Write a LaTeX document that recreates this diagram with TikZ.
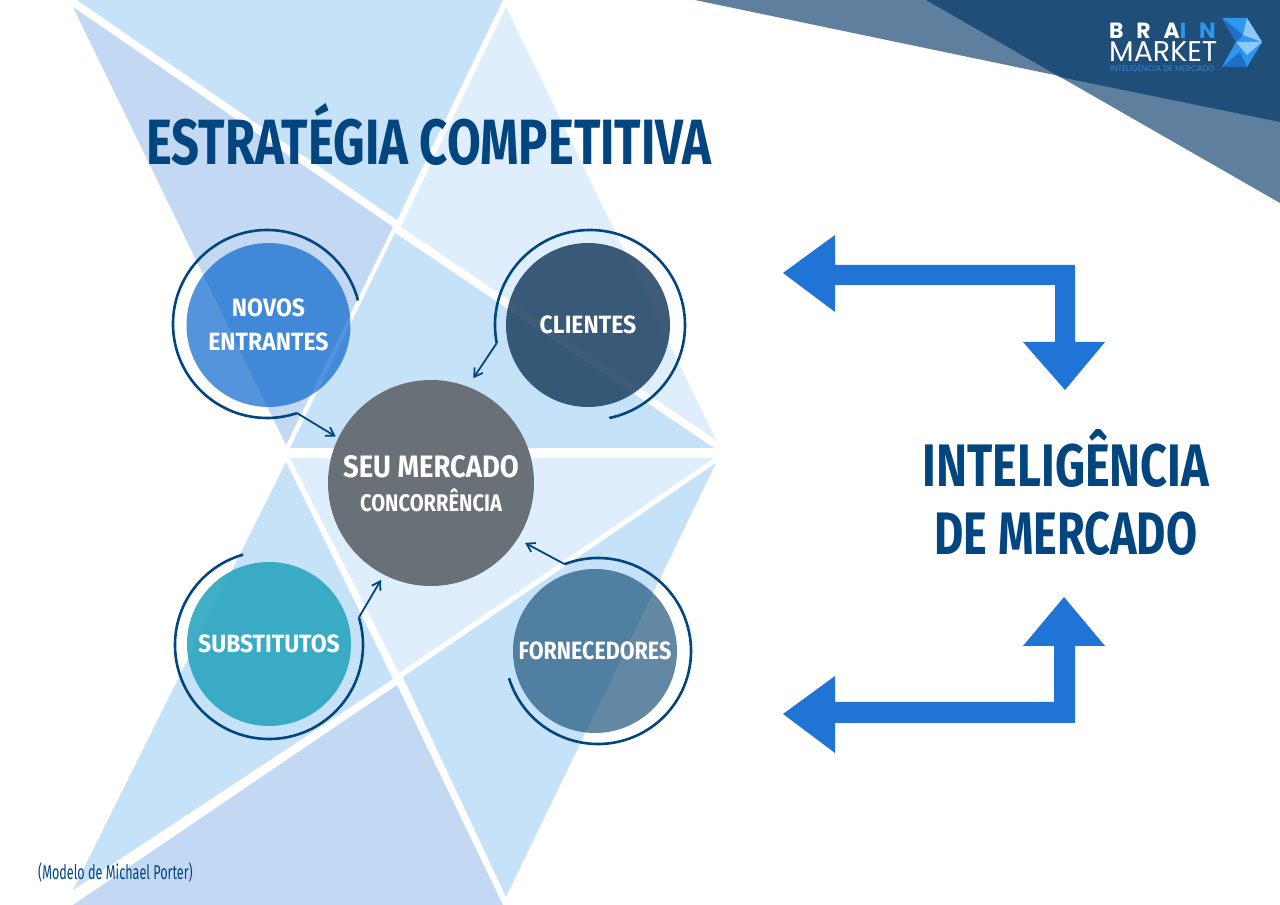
\documentclass[tikz,border=0pt]{standalone}
\usepackage{fontspec}
\usetikzlibrary{calc,arrows.meta}
\setmainfont{Fira Sans}
\newfontfamily\condA[FakeStretch=0.765]{Fira Sans}
\newfontfamily\condB[FakeStretch=0.78]{Fira Sans}
\newfontfamily\condC[FakeStretch=0.75]{Fira Sans}
\newfontfamily\condBall[FakeStretch=0.92]{Fira Sans}
\newfontfamily\condFor[FakeStretch=0.86]{Fira Sans}
\newfontfamily\condSeu[FakeStretch=0.885]{Fira Sans}
\newfontfamily\condCon[FakeStretch=0.84]{Fira Sans}
\newfontfamily\thincond[FakeStretch=0.63]{Fira Sans}
\newfontfamily\logofont{Poppins}
\definecolor{triA}{HTML}{C5E2F9}
\definecolor{triB}{HTML}{C2D8F3}
\definecolor{triC}{HTML}{DEEEFD}
\definecolor{navy}{HTML}{02457F}
\definecolor{bandL}{HTML}{5F7F9E}
\definecolor{bandD}{HTML}{1F4E79}
\definecolor{bigblue}{HTML}{1F74D6}
\definecolor{logoBlue}{HTML}{2F96F0}
\definecolor{logoDark}{HTML}{1F6FC8}
\definecolor{logoLight}{HTML}{8FC8FA}
\definecolor{logoSub}{HTML}{3A86CF}
\definecolor{seuGray}{HTML}{6A7078}
\definecolor{novC}{HTML}{0B67CF}
\definecolor{cliC}{HTML}{1D4061}
\definecolor{subC}{HTML}{2BA6C0}
\definecolor{forC}{HTML}{21567C}
\tikzset{
  x=1pt,y=1pt,
  ball/.style={circle,minimum size=164pt,inner sep=0pt,text=white,text opacity=1,align=center,
    font=\condBall\bfseries\fontsize{25}{34.5}\selectfont},
  ringline/.style={navy,line width=2.6pt},
  tiparrow/.style={navy,line width=1.8pt,-{Straight Barb[length=8pt,width=10pt,line width=1.8pt]}},
  headline/.style={anchor=base,text=navy,font=\condA\bfseries\fontsize{64}{64}\selectfont},
  sidetext/.style={anchor=base,text=navy,font=\bfseries\fontsize{60}{60}\selectfont},
  logotext/.style={anchor=base west,inner sep=0pt,text depth=0pt},
}
\begin{document}
\begin{tikzpicture}
\useasboundingbox (0,0) rectangle (1280,905);
\fill[white] (0,0) rectangle (1280,905);
% triangles
\fill[triA] (77,905) -- (503,905) -- (397,685) -- cycle;
\fill[triB] (73,898) -- (393,678) -- (286,460) -- cycle;
\fill[triC] (506,898) -- (716,465) -- (401,678) -- cycle;
\fill[triA] (395,672) -- (714,457) -- (290,457) -- cycle;
\fill[triC] (290,447) -- (714,447) -- (399,232) -- cycle;
\fill[triA] (286,443) -- (393,226) -- (73,15) -- cycle;
\fill[triA] (403,228) -- (716,442) -- (506,8) -- cycle;
\fill[triB] (73,0) -- (503,0) -- (397,220) -- cycle;
% corner bands
\fill[bandL] (695,905) -- (1280,783) -- (1280,905) -- cycle;
\fill[bandL] (926,905) -- (1280,702) -- (1280,905) -- cycle;
\fill[bandD] (926,905) -- (1280,905) -- (1280,783) -- (1060,828) -- cycle;
% logo
\fill[logoBlue] (1222,887) -- (1247,887) -- (1262,863) -- (1247,838) -- (1222,838) -- (1236,863) -- cycle;
\fill[logoDark] (1222,887) -- (1243,870) -- (1236,863) -- cycle;
\fill[logoLight] (1247,887) -- (1262,863) -- (1243,870) -- cycle;
\fill[logoLight] (1236,863) -- (1262,863) -- (1247,850) -- cycle;
\fill[logoDark] (1222,838) -- (1247,838) -- (1240,853) -- cycle;
\node[logotext,text=white,text height=16pt,font=\logofont\bfseries\fontsize{22}{22}\selectfont] (brain) at (1109,866) {\addfontfeature{LetterSpace=58}BRA\textcolor{logoBlue}{IN}};
\node[logotext,text=white,text height=20pt,font=\logofont\fontsize{28.5}{28.5}\selectfont] (market) at (1109,843) {MARKET};
\node[logotext,text=logoSub,text height=6pt,font=\logofont\fontsize{8}{8}\selectfont] (sublogo) at (1110,833) {INTELIGÊNCIA DE MERCADO};
% big arrows
\fill[bigblue] (783,632) -- (835,670) -- (835,640) -- (1075,640) -- (1075,563) -- (1105,563) -- (1065,515) -- (1023,563) -- (1055,563) -- (1055,620) -- (835,620) -- (835,593) -- cycle;
\fill[bigblue] (783,191) -- (835,229) -- (835,203) -- (1054,203) -- (1054,259) -- (1023,259) -- (1064,308) -- (1105,259) -- (1075,259) -- (1075,182) -- (835,182) -- (835,152) -- cycle;
% titles
\node[headline] (title) at (429,740) {ESTRATÉGIA COMPETITIVA};
\node[sidetext,font=\condB\bfseries\fontsize{60}{60}\selectfont] (intel) at (1066,418) {INTELIGÊNCIA};
\node[sidetext,font=\condC\bfseries\fontsize{60}{60}\selectfont] (demerc) at (1066,350) {DE MERCADO};
\node[anchor=base west,inner sep=0pt,text=navy,font=\thincond\fontsize{20}{20}\selectfont] (porter) at (38,25) {(Modelo de Michael Porter)};
% balls
\node[circle,minimum size=206pt,inner sep=0pt,fill=seuGray] (seu) at (431,422) {};
\node[anchor=base,text=white,font=\condSeu\bfseries\fontsize{31}{31}\selectfont] (seutxt) at (431,427) {SEU MERCADO};
\node[anchor=base,text=white,font=\condCon\bfseries\fontsize{24}{24}\selectfont] (contxt) at (431,393) {CONCORRÊNCIA};
\node[ball,fill=novC,fill opacity=.7] (nov) at (268.5,580) {NOVOS\\ENTRANTES};
\node[ball,fill=cliC,fill opacity=.85] (cli) at (588,580) {CLIENTES};
\node[ball,fill=subC,fill opacity=.9] (sub) at (269,261) {SUBSTITUTOS};
\node[ball,fill=forC,fill opacity=.7,font=\condFor\bfseries\fontsize{25}{34.5}\selectfont] (for) at (595,254) {FORNECEDORES};
% rings with arrows
\coordinate (novR) at (267,581);
\coordinate (cliR) at (590,580);
\coordinate (subR) at (269,260);
\coordinate (forR) at (598,254);
\coordinate (novT) at ($(seu)+(154:106)$);
\coordinate (cliT) at ($(seu)+(68:113)$);
\coordinate (subT) at ($(seu)+(242.7:109)$);
\coordinate (forT) at ($(seu)+(-32.5:111.5)$);
\draw[ringline] ($(novR)+(14.5:94)$) arc[start angle=14.5,end angle=288.6,radius=94];
\draw[tiparrow] ($(novR)+(288.6:94)$) -- (novT);
\draw[ringline] ($(cliR)+(-78.3:95)$) arc[start angle=-78.3,end angle=191,radius=95];
\draw[tiparrow] ($(cliR)+(191:95)$) -- (cliT);
\draw[ringline] ($(subR)+(106:94)$) arc[start angle=106,end angle=377,radius=94];
\draw[tiparrow] ($(subR)+(377:94)$) -- (subT);
\draw[ringline] ($(forR)+(197:93)$) arc[start angle=197,end angle=471,radius=93];
\draw[tiparrow] ($(forR)+(471:93)$) -- (forT);
\end{tikzpicture}
\end{document}
